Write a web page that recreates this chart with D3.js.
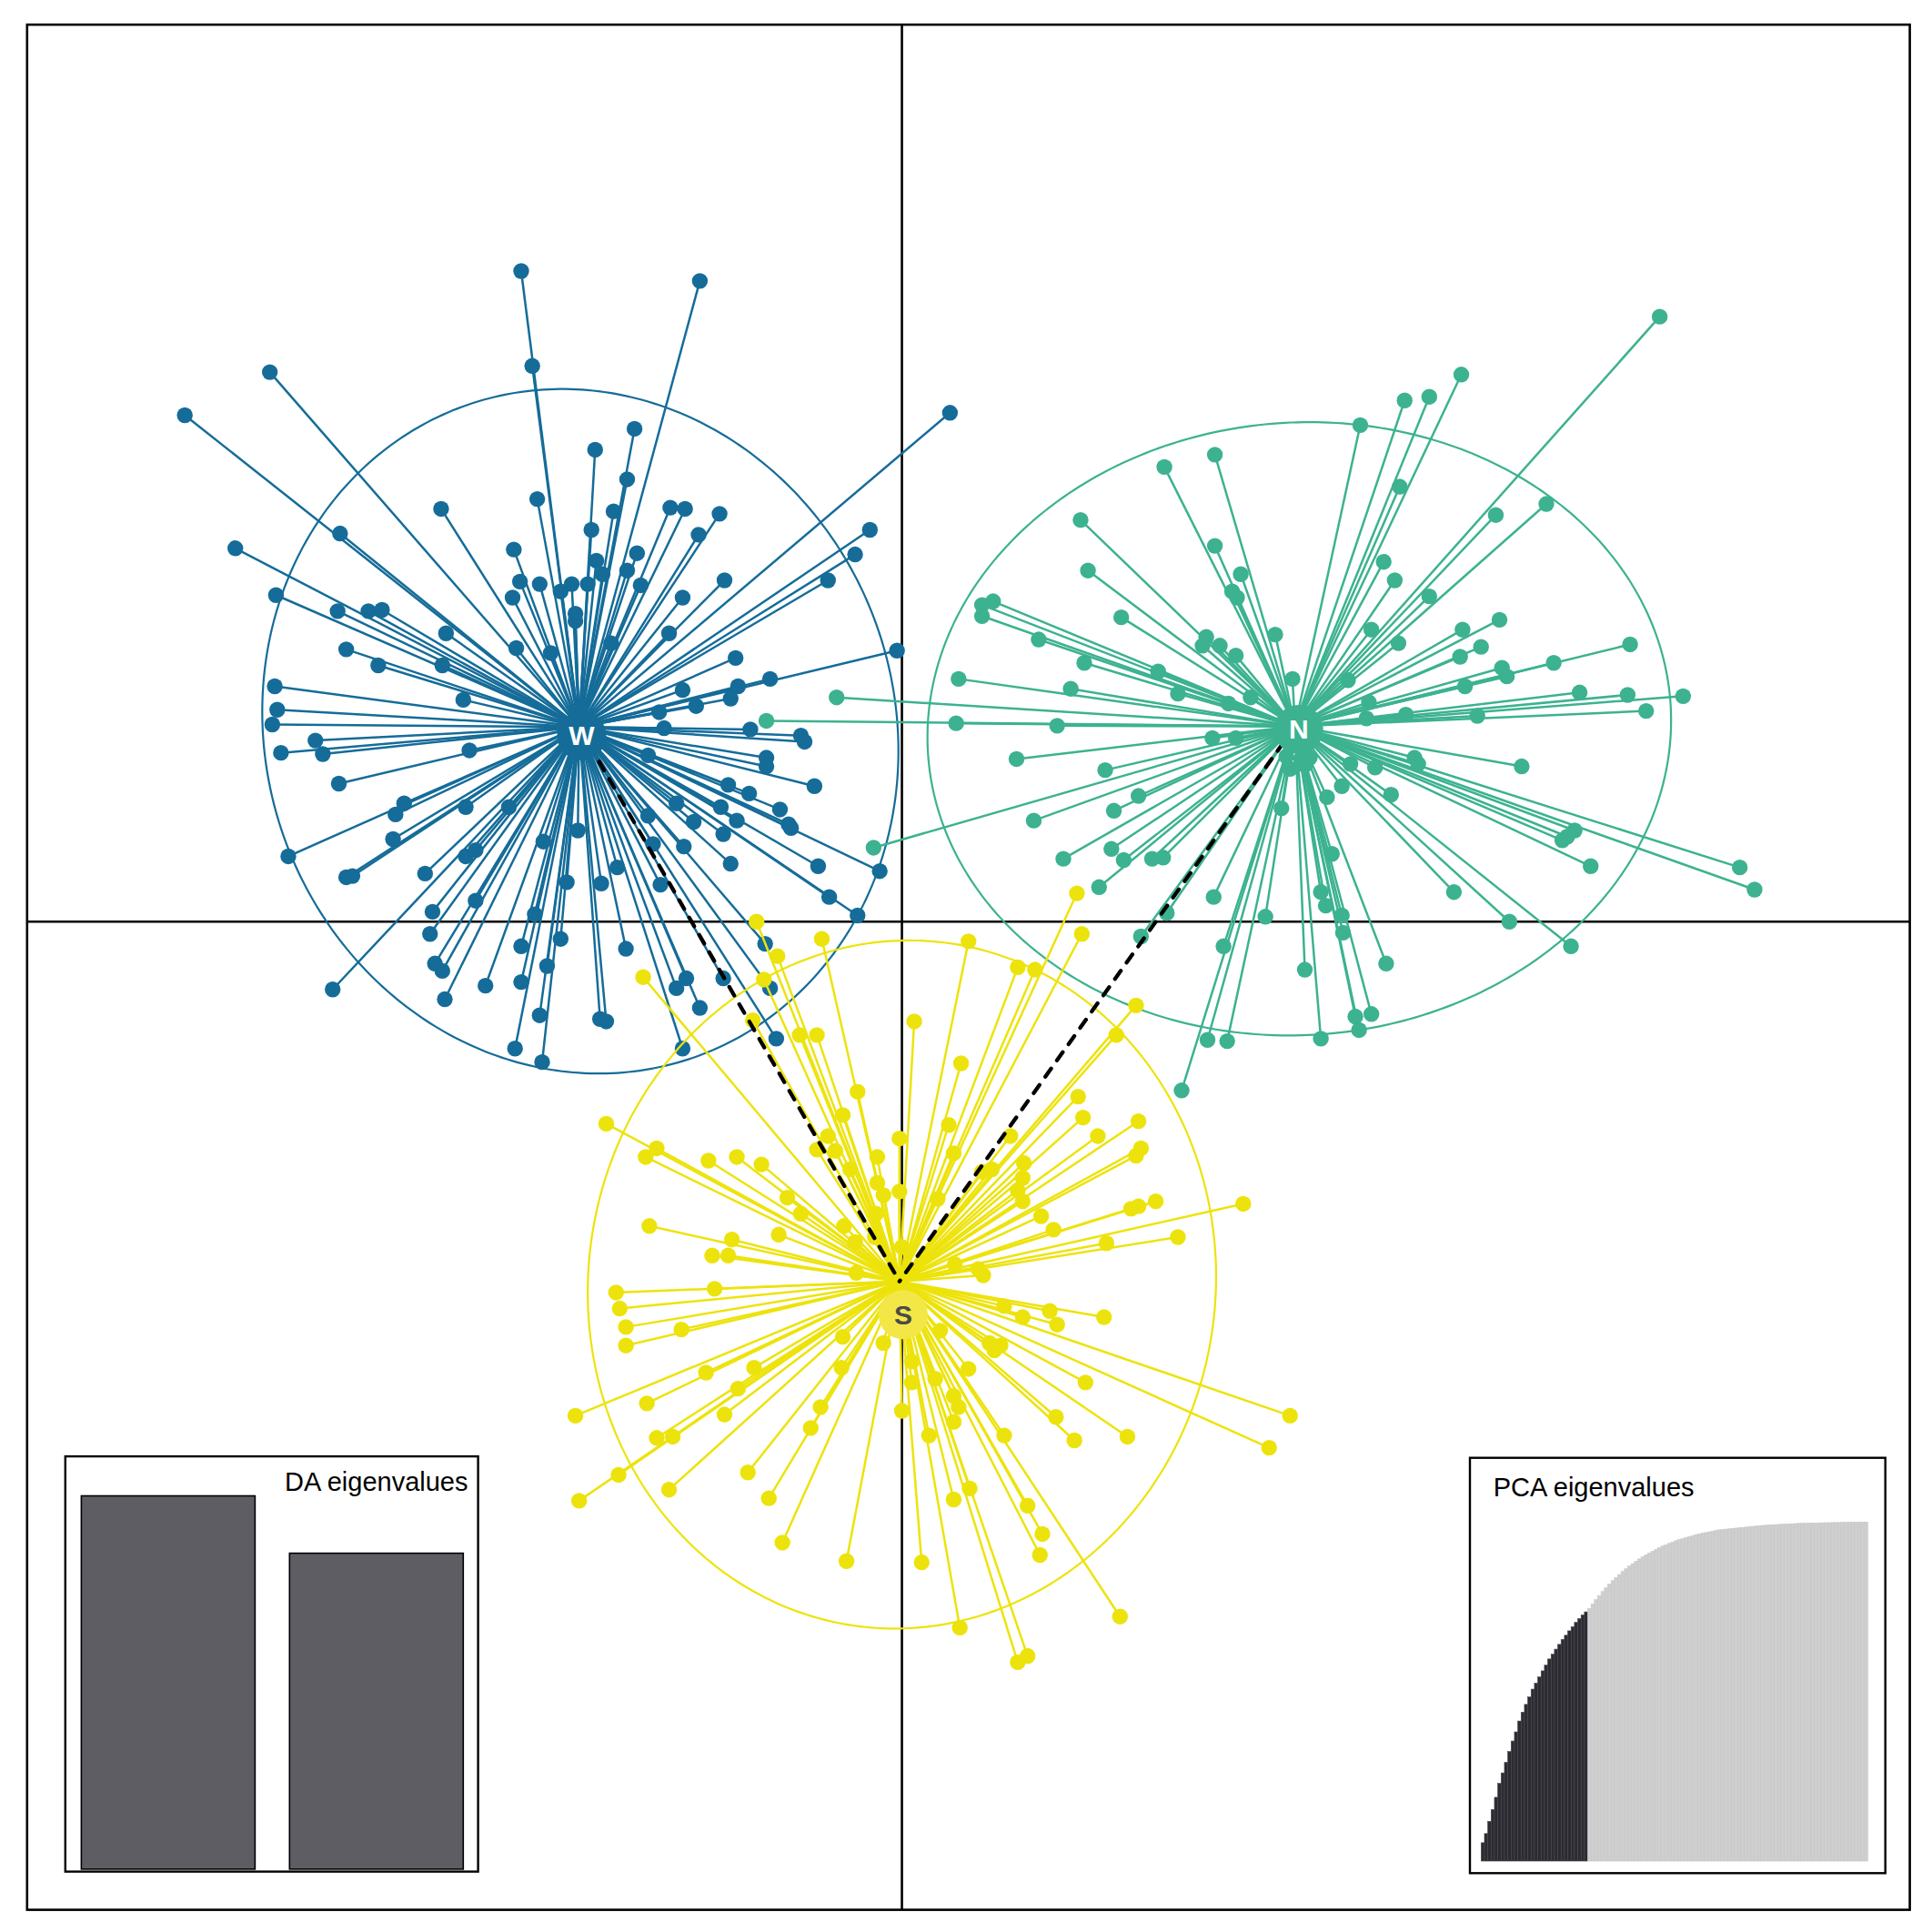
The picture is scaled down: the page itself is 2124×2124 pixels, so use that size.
<!DOCTYPE html>
<html>
<head>
<meta charset="utf-8">
<script src="https://cdnjs.cloudflare.com/ajax/libs/d3/7.8.5/d3.min.js"></script>
<style>
  html, body { margin: 0; padding: 0; background: #fff; }
  svg { display: block; }
</style>
</head>
<body>
<script>
// ---------------- DATA ----------------
const groupNames = ["W", "N", "S"];

// Individual coordinates on discriminant functions [LD1, LD2]
const groupW = [
[-3.09,5.28],[-1.64,5.20],[-3.00,4.51],[-5.13,4.46],[-5.82,4.11],[0.39,4.13],[-2.17,4.00],[-2.49,3.83],
[-2.23,3.59],[-2.96,3.43],[-3.74,3.35],[-2.34,3.33],[-1.88,3.36],[-1.76,3.35],[-1.48,3.31],[-1.65,3.14],
[-2.52,3.18],[-4.56,3.15],[-0.26,3.18],[-5.41,3.03],[-3.15,3.02],[-2.48,2.93],[-2.15,2.99],[-0.38,2.98],
[-2.43,2.82],[-3.10,2.76],[-2.94,2.74],[-2.68,2.74],[-2.55,2.74],[-2.77,2.68],[-2.23,2.85],[-2.12,2.73],
[-1.44,2.77],[-0.60,2.77],[-2.65,2.50],[-2.65,2.44],[-5.08,2.65],[-3.16,2.63],[-1.78,2.63],[-4.58,2.52],
[-4.33,2.52],[-4.22,2.53],[-3.70,2.34],[-1.89,2.34],[-0.04,2.20],[-4.51,2.21],[-4.25,2.08],[-3.73,2.08],
[-3.13,2.22],[-2.85,2.18],[-2.36,2.26],[-1.35,2.14],[-5.09,1.91],[-1.07,1.97],[-1.33,1.91],[-1.78,1.88],
[-1.39,1.81],[-1.67,1.75],[-3.56,1.80],[-5.07,1.72],[-1.97,1.70],[-5.11,1.60],[-1.93,1.57],[-1.23,1.56],
[-0.82,1.51],[-0.79,1.46],[-4.76,1.47],[-4.70,1.36],[-5.04,1.37],[-3.51,1.39],[-2.06,1.35],[-1.10,1.33],
[-1.10,1.26],[-4.57,1.12],[-1.41,1.11],[-1.24,1.04],[-0.71,1.10],[-4.04,0.96],[-3.54,0.93],[-3.19,0.93],
[-1.83,0.96],[-4.11,0.87],[-1.47,0.93],[-1.34,0.82],[-0.99,0.91],[-0.92,0.79],[-0.90,0.76],[-2.06,0.86],
[-1.69,0.81],[-4.13,0.67],[-2.91,0.65],[-2.63,0.74],[-1.45,0.71],[-2.02,0.63],[-1.77,0.61],[-4.98,0.53],
[-3.54,0.53],[-3.46,0.58],[-0.68,0.45],[-4.51,0.36],[-4.46,0.37],[-3.87,0.39],[-2.44,0.31],[-2.72,0.32],
[-1.96,0.30],[-2.31,0.44],[-1.39,0.47],[-0.18,0.41],[-0.59,0.20],[-3.46,0.17],[-3.81,0.08],[-2.98,0.06],
[-3.83,-0.10],[-0.36,0.05],[-2.77,-0.14],[-3.09,-0.20],[-2.24,-0.22],[-1.11,-0.18],[-3.79,-0.34],[-3.73,-0.40],
[-2.88,-0.36],[-3.38,-0.52],[-3.09,-0.49],[-1.75,-0.46],[-1.83,-0.54],[-1.45,-0.46],[-1.07,-0.54],[-1.64,-0.70],
[-4.62,-0.55],[-3.71,-0.63],[-2.94,-0.76],[-2.45,-0.79],[-2.40,-0.81],[-1.02,-0.95],[-1.78,-1.03],[-3.14,-1.03],
[-2.92,-1.14]
];

const groupN = [
[6.15,4.91],[4.54,4.44],[4.08,4.23],[4.28,4.26],[3.72,4.03],[2.54,3.79],[2.13,3.69],[4.04,3.53],
[5.23,3.39],[4.82,3.30],[1.45,3.26],[2.54,3.05],[2.75,2.82],[3.91,2.92],[4.00,2.77],[1.51,2.85],
[2.68,2.68],[2.72,2.63],[4.28,2.64],[0.65,2.57],[0.74,2.60],[0.65,2.48],[1.78,2.47],[4.85,2.45],
[4.55,2.37],[3.03,2.33],[3.81,2.37],[1.11,2.29],[2.47,2.31],[2.44,2.24],[2.58,2.24],[2.71,2.16],
[4.70,2.23],[4.03,2.26],[5.91,2.25],[4.53,2.15],[5.29,2.10],[1.48,2.10],[2.08,2.03],[4.87,2.06],
[4.91,1.99],[0.46,1.97],[3.17,1.97],[3.62,1.96],[1.37,1.89],[2.24,1.85],[4.57,1.91],[5.50,1.86],
[5.89,1.84],[6.34,1.83],[-0.53,1.82],[2.65,1.77],[2.83,1.82],[3.79,1.78],[4.09,1.68],[4.67,1.67],
[6.04,1.71],[3.77,1.65],[0.44,1.61],[1.26,1.59],[2.52,1.49],[2.71,1.49],[-1.10,1.63],[0.93,1.32],
[1.65,1.23],[5.03,1.26],[3.12,1.34],[3.27,1.27],[4.16,1.33],[4.19,1.28],[3.64,1.28],[3.84,1.25],
[3.15,1.24],[3.24,1.32],[3.31,1.33],[3.57,1.10],[1.92,1.02],[3.45,1.01],[3.97,1.03],[1.72,0.90],
[1.07,0.82],[3.08,0.92],[5.46,0.74],[5.40,0.69],[5.36,0.66],[-0.23,0.60],[1.70,0.59],[1.31,0.51],
[1.80,0.50],[2.03,0.51],[2.12,0.52],[3.49,0.55],[5.59,0.45],[6.80,0.44],[6.92,0.26],[1.60,0.28],
[4.48,0.24],[3.40,0.24],[3.44,0.13],[3.57,0.05],[2.53,0.20],[2.95,0.04],[3.58,-0.09],[4.93,0.00],
[2.15,0.07],[1.94,-0.12],[2.61,-0.20],[5.43,-0.20],[3.93,-0.34],[3.27,-0.39],[3.68,-0.77],[3.81,-0.75],
[3.71,-0.88],[2.48,-0.96],[2.64,-0.97],[3.40,-0.95],[2.27,-1.37]
];

const groupS = [
[-1.18,0.00],[-0.65,-0.14],[0.54,-0.16],[1.46,-0.10],[1.42,0.23],[-1.01,-0.28],[-2.10,-0.45],[-1.12,-0.47],
[0.94,-0.37],[1.08,-0.39],[0.10,-0.81],[1.90,-0.68],[1.74,-0.92],[-1.21,-0.80],[-0.83,-0.92],[-0.69,-0.92],
[0.48,-1.15],[-0.36,-1.38],[-0.48,-1.57],[-2.40,-1.64],[1.43,-1.42],[1.47,-1.59],[1.92,-1.62],[0.38,-1.65],
[-0.02,-1.76],[-1.99,-1.84],[-2.08,-1.91],[1.59,-1.74],[-0.60,-1.74],[-0.69,-1.85],[-0.54,-1.86],[0.88,-1.74],
[-1.57,-1.94],[-1.34,-1.91],[-1.14,-1.97],[-0.20,-1.91],[0.42,-1.88],[1.94,-1.84],[1.90,-1.90],[0.99,-1.96],
[0.65,-2.03],[0.73,-2.01],[-0.42,-2.01],[-0.20,-2.12],[-0.02,-2.19],[0.98,-2.08],[0.94,-2.18],[0.98,-2.27],
[-0.93,-2.24],[-0.15,-2.22],[2.06,-2.27],[1.92,-2.31],[1.86,-2.33],[2.77,-2.29],[-0.82,-2.37],[0.29,-2.25],
[-0.21,-2.37],[1.13,-2.39],[-2.05,-2.47],[-0.47,-2.47],[1.23,-2.50],[-1.00,-2.54],[-1.38,-2.58],[2.24,-2.56],
[1.66,-2.61],[-1.54,-2.71],[-1.41,-2.71],[0.00,-2.64],[-0.22,-2.56],[-0.38,-2.60],[-0.37,-2.85],[0.62,-2.82],
[0.66,-2.87],[0.43,-2.78],[-2.32,-3.01],[-1.52,-2.98],[-2.29,-3.14],[-2.24,-3.29],[-1.79,-3.31],[-2.24,-3.44],
[0.83,-3.12],[0.98,-3.21],[1.20,-3.16],[1.26,-3.27],[1.64,-3.21],[0.31,-3.32],[-0.48,-3.37],[-0.15,-3.42],
[0.71,-3.42],[0.75,-3.48],[0.80,-3.44],[-1.59,-3.66],[-1.20,-3.62],[-0.49,-3.62],[0.54,-3.63],[0.08,-3.57],
[-2.65,-4.01],[-2.07,-3.91],[-1.33,-3.79],[1.49,-3.74],[0.08,-3.74],[0.27,-3.71],[-1.99,-4.19],[-1.86,-4.18],
[-1.44,-4.00],[0.42,-3.85],[0.46,-3.94],[-0.66,-3.94],[-0.74,-4.11],[0.00,-3.97],[0.42,-4.06],[1.25,-4.02],
[1.40,-4.21],[1.83,-4.18],[3.15,-4.01],[2.98,-4.27],[0.83,-4.17],[0.22,-4.17],[-2.30,-4.49],[-2.62,-4.70],
[-1.89,-4.61],[-1.25,-4.47],[-1.08,-4.68],[-0.97,-5.04],[-0.45,-5.19],[0.16,-5.20],[0.42,-4.69],[0.55,-4.60],
[1.02,-4.74],[1.14,-4.97],[1.12,-5.14],[1.77,-5.64],[0.47,-5.73],[0.94,-6.01],[1.02,-5.96]
];

// Group centroids (LD1, LD2)
const centroidLD1 = [-2.62, 3.19, -0.02];
const centroidLD2 = [1.58, 1.585, -2.92];

// Group label positions (LD1, LD2)
const labelLD1 = [-2.60, 3.22, 0.01];
const labelLD2 = [1.51, 1.56, -3.19];

// Inertia ellipses: centre, semi-axes, rotation (degrees)
const ellipseCx = [-2.61, 3.225, 0.00];
const ellipseCy = [1.545, 1.565, -2.945];
const ellipseA = [2.554, 3.02, 2.546];
const ellipseB = [2.803, 2.486, 2.796];
const ellipseAngle = [19, 4, -7];

// Minimum spanning tree between groups
const mstEdges = [["W", "S"], ["N", "S"]];

// DA eigenvalues
const daEigen = [410, 347];

// PCA eigenvalues: cumulative variance (%), first 32 retained
const pcaRetained = 32;
const pcaCumVar = [
5.4,8.1,11.7,15.2,18.8,22.9,26.0,29.1,32.3,35.4,38.1,41.3,43.9,46.2,48.4,50.7,
52.5,54.3,56.1,57.8,59.6,61.0,62.5,63.9,65.4,66.6,67.9,69.1,70.4,71.5,72.6,73.5,
74.5,75.8,77.1,78.3,79.5,80.6,81.7,82.7,83.6,84.5,85.4,86.2,87.0,87.7,88.4,89.1,
89.7,90.3,90.9,91.4,91.9,92.4,92.9,93.3,93.7,94.1,94.5,94.8,95.1,95.4,95.7,96.0,
96.3,96.5,96.7,96.9,97.1,97.3,97.5,97.7,97.8,97.9,98.0,98.1,98.2,98.3,98.4,98.5,
98.6,98.7,98.8,98.9,99.0,99.05,99.1,99.2,99.25,99.3,99.35,99.4,99.45,99.5,99.55,99.6,
99.62,99.65,99.68,99.7,99.72,99.75,99.78,99.8,99.82,99.84,99.86,99.88,99.9,99.92,99.94,99.96,
99.97,99.98,99.99,100
];

// ---------------- DRAWING ----------------
const W = 2124, H = 2124;
const colors = { W: "#156c99", N: "#3cb290", S: "#ede30c" };
const labelText = { W: "#ffffff", N: "#ffffff", S: "#4a4a4a" };
const labelDisc = { W: "#156c99", N: "#3cb290", S: "#f3e748" };
const points = { W: groupW, N: groupN, S: groupS };

const svg = d3.select("body").append("svg")
  .attr("width", W).attr("height", H)
  .attr("viewBox", `0 0 ${W} ${H}`);

svg.append("rect").attr("width", W).attr("height", H).attr("fill", "#fff");

const frame = { left: 29.8, top: 27.1, right: 2099.6, bottom: 2099.6 };
const x = d3.scaleLinear().domain([-7.10, 8.18]).range([frame.left, frame.right]);
const y = d3.scaleLinear().domain([-8.02, 7.28]).range([frame.bottom, frame.top]);

// axes through origin
const gAxes = svg.append("g");
gAxes.append("line")
  .attr("x1", x(0)).attr("x2", x(0))
  .attr("y1", frame.top).attr("y2", frame.bottom)
  .attr("stroke", "#000").attr("stroke-width", 2.6);
gAxes.append("line")
  .attr("x1", frame.left).attr("x2", frame.right)
  .attr("y1", y(0)).attr("y2", y(0))
  .attr("stroke", "#000").attr("stroke-width", 2.6);

const ellLine = d3.line().x(d => x(d[0])).y(d => y(d[1])).curve(d3.curveLinearClosed);

groupNames.forEach((g, i) => {
  const gg = svg.append("g").attr("class", "grp-" + g);
  const th = ellipseAngle[i] * Math.PI / 180;
  const pts = d3.range(0, 360, 1).map(a => {
    const t = a * Math.PI / 180;
    const ex = ellipseA[i] * Math.cos(t), ey = ellipseB[i] * Math.sin(t);
    return [ellipseCx[i] + ex * Math.cos(th) - ey * Math.sin(th),
            ellipseCy[i] + ex * Math.sin(th) + ey * Math.cos(th)];
  });
  gg.append("path").attr("d", ellLine(pts))
    .attr("fill", "none").attr("stroke", colors[g]).attr("stroke-width", 2.2);
  gg.selectAll("line.seg").data(points[g]).join("line")
    .attr("class", "seg")
    .attr("x1", x(centroidLD1[i])).attr("y1", y(centroidLD2[i]))
    .attr("x2", d => x(d[0])).attr("y2", d => y(d[1]))
    .attr("stroke", colors[g]).attr("stroke-width", 2.5);
  gg.selectAll("circle.pt").data(points[g]).join("circle")
    .attr("class", "pt")
    .attr("cx", d => x(d[0])).attr("cy", d => y(d[1]))
    .attr("r", 8.7).attr("fill", colors[g]);
});

// minimum spanning tree
const idx = n => groupNames.indexOf(n);
svg.append("g").selectAll("line").data(mstEdges).join("line")
  .attr("x1", d => x(centroidLD1[idx(d[0])])).attr("y1", d => y(centroidLD2[idx(d[0])]))
  .attr("x2", d => x(centroidLD1[idx(d[1])])).attr("y2", d => y(centroidLD2[idx(d[1])]))
  .attr("stroke", "#000").attr("stroke-width", 4.3)
  .attr("stroke-dasharray", "11,11").attr("stroke-linecap", "round");

// group labels
const gl = svg.append("g");
groupNames.forEach((g, i) => {
  gl.append("circle")
    .attr("cx", x(labelLD1[i])).attr("cy", y(labelLD2[i]))
    .attr("r", 27).attr("fill", labelDisc[g]);
  gl.append("text")
    .attr("x", x(labelLD1[i])).attr("y", y(labelLD2[i]))
    .attr("text-anchor", "middle").attr("dominant-baseline", "central")
    .attr("font-family", "Liberation Sans, Arial, sans-serif")
    .attr("font-weight", "bold").attr("font-size", 30)
    .attr("fill", labelText[g]).text(g);
});

// ---------- DA eigenvalues inset ----------
const da = { left: 71.8, top: 1601.1, right: 525.6, bottom: 2057.6 };
const gda = svg.append("g");
gda.append("rect").attr("x", da.left).attr("y", da.top)
  .attr("width", da.right - da.left).attr("height", da.bottom - da.top)
  .attr("fill", "#fff").attr("stroke", "#000").attr("stroke-width", 2.4);
const daX = d3.scaleBand().domain(d3.range(daEigen.length)).range([89.4, 509.3]).paddingInner(0.1656).paddingOuter(0);
const daY = d3.scaleLinear().domain([0, daEigen[0]]).range([2054.9, 1644.5]);
gda.selectAll("rect.bar").data(daEigen).join("rect").attr("class", "bar")
  .attr("x", (d, i) => daX(i)).attr("width", daX.bandwidth())
  .attr("y", d => daY(d)).attr("height", d => daY(0) - daY(d))
  .attr("fill", "#5f5d64").attr("stroke", "#000").attr("stroke-width", 1.6);
gda.append("text").attr("x", 514.5).attr("y", 1639)
  .attr("text-anchor", "end")
  .attr("font-family", "Liberation Sans, Arial, sans-serif").attr("font-size", 29)
  .attr("fill", "#000").text("DA eigenvalues");

// ---------- PCA eigenvalues inset ----------
const pc = { left: 1616, top: 1602.7, right: 2072.7, bottom: 2059.3 };
const gpc = svg.append("g");
gpc.append("rect").attr("x", pc.left).attr("y", pc.top)
  .attr("width", pc.right - pc.left).attr("height", pc.bottom - pc.top)
  .attr("fill", "#fff").attr("stroke", "#000").attr("stroke-width", 2.4);
const pcX = d3.scaleBand().domain(d3.range(pcaCumVar.length)).range([1628.3, 2053.3]).padding(0);
const pcY = d3.scaleLinear().domain([0, 100]).range([2046, 1673.3]);
gpc.selectAll("rect.bar").data(pcaCumVar).join("rect").attr("class", "bar")
  .attr("x", (d, i) => pcX(i)).attr("width", pcX.bandwidth())
  .attr("y", d => pcY(d)).attr("height", d => pcY(0) - pcY(d))
  .attr("fill", (d, i) => i < pcaRetained ? "#2c2b31" : "#cfcfcf")
  .attr("stroke", (d, i) => i < pcaRetained ? "#46454c" : "#c6c6c6")
  .attr("stroke-width", 0.6);
gpc.append("text").attr("x", 1641.7).attr("y", 1645)
  .attr("text-anchor", "start")
  .attr("font-family", "Liberation Sans, Arial, sans-serif").attr("font-size", 29)
  .attr("fill", "#000").text("PCA eigenvalues");

// outer frame
svg.append("rect")
  .attr("x", frame.left).attr("y", frame.top)
  .attr("width", frame.right - frame.left).attr("height", frame.bottom - frame.top)
  .attr("fill", "none").attr("stroke", "#000").attr("stroke-width", 2.6);
</script>
</body>
</html>
